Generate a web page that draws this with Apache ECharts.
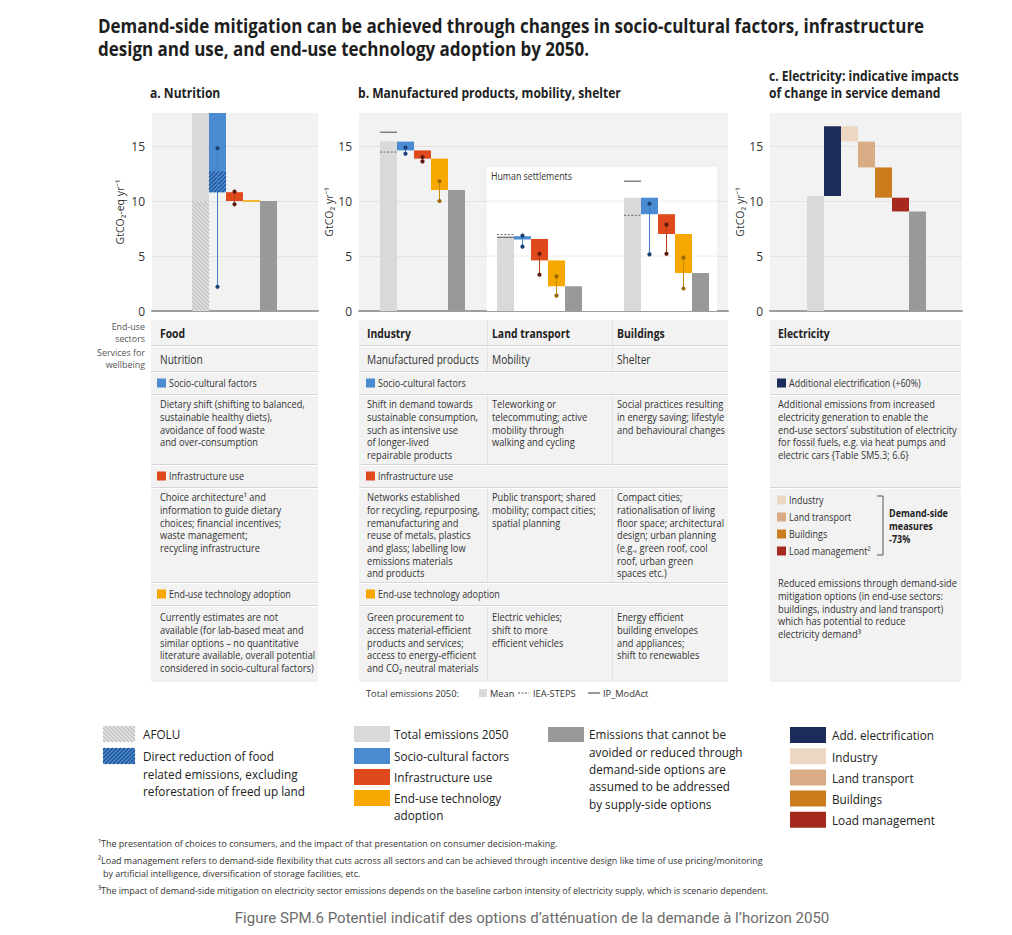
<!DOCTYPE html>
<html><head><meta charset="utf-8">
<script src="https://cdn.jsdelivr.net/npm/echarts@6/dist/echarts.min.js"></script>
<style>html,body{margin:0;padding:0;background:#fff}#c{width:1012px;height:935px}</style>
</head><body><div id="c"></div>
<script>
// ================= DATA =================
const yTicks = [0, 5, 10, 15];
const yMax = 18;

// a. Nutrition (Food) – values in GtCO2-eq/yr
const foodTotal = 21;              // runs off the top of the axis
const foodAfolu = 10.0;
const foodSocio = [21, 10.8];      // [from, to]
const foodSocioDirect = [12.7, 10.8];
const foodInfra = [10.8, 10.0];
const foodTech = [10.0, 10.0];
const foodRemain = 10.0;
const foodSocioRange = [14.8, 2.2];
const foodInfraRange = [10.85, 9.7];

// b. Manufactured products, mobility, shelter – GtCO2/yr
const sectorsB = ['Industry', 'Land transport', 'Buildings'];
const servicesB = ['Manufactured products', 'Mobility', 'Shelter'];
const totalB = [15.4, 6.7, 10.3];
const socioB = [[15.4, 14.6], [6.8, 6.5], [10.3, 8.8]];
const infraB = [[14.6, 13.85], [6.55, 4.6], [8.8, 7.0]];
const techB = [[13.85, 11.0], [4.6, 2.25], [7.0, 3.45]];
const remainB = [11.0, 2.25, 3.45];
const socioRangeB = [[14.85, 14.3], [6.85, 5.85], [9.75, 5.15]];
const infraRangeB = [[14.0, 13.6], [5.2, 3.3], [7.85, 5.2]];
const techRangeB = [[11.8, 10.0], [3.15, 1.4], [4.85, 2.05]];
const ieaStepsB = [14.45, 6.95, 8.7];
const ipModActB = [16.25, 6.7, 11.8];

// c. Electricity – GtCO2/yr
const elecSteps = ['Total emissions 2050', 'Add. electrification', 'Industry', 'Land transport', 'Buildings', 'Load management', 'Remaining'];
const elecFrom = [0, 10.45, 16.8, 15.4, 13.05, 10.3, 0];
const elecTo = [10.45, 16.8, 15.4, 13.05, 10.3, 9.05, 9.05];

// ================= STYLE / LAYOUT =================
const FONT = "'Open Sans', 'Noto Sans', sans-serif";
const SLOT = 17;
const GRIDS = [
  {left: 152, top: 113, width: 166, height: 198},
  {left: 359, top: 113, width: 369, height: 198},
  {left: 770, top: 113, width: 192, height: 198}
];
const aOff = 40 / SLOT;
const bOffs = [21 / SLOT, 138 / SLOT, 265 / SLOT];
const cOff = 37 / SLOT;
const hsBox = {from: 128 / SLOT, to: 358 / SLOT, top: 13.1};

// condense text horizontally to match the reference's condensed typeface
const mctx = document.createElement('canvas').getContext('2d');
function fit(sample, font, w) { mctx.font = font; const m = mctx.measureText(sample).width; return m > 0 ? Math.min(1.1, w / m) : 1; }
const fnt = (size, bold, fam) => `${bold ? 'bold ' : ''}${size}px ${fam || FONT}`;
const SX = {
  title: fit('Demand-side mitigation can be achieved through changes in socio-cultural factors, infrastructure', fnt(19.5, true), 827),
  ptitle: fit('b. Manufactured products, mobility, shelter', fnt(13.5, true), 263),
  body: fit('Dietary shift (shifting to balanced,', fnt(10.5), 145),
  h1: fit('Land transport', fnt(12.5, true), 78),
  h2: fit('Manufactured products', fnt(12.5), 112),
  lab: fit('Socio-cultural factors', fnt(10.5), 88),
  side: fit('Services for', fnt(9.5), 48),
  leg: fit('Direct reduction of food', fnt(13.5), 131),
  foot: fit('³The impact of demand-side mitigation on electricity sector emissions depends on the baseline carbon intensity of electricity supply, which is scenario dependent.', fnt(9.6), 670),
  cap: fit('Figure SPM.6 Potentiel indicatif des options d’atténuation de la demande à l’horizon 2050', fnt(14, false, "Roboto, sans-serif"), 595),
  small: fit('Total emissions 2050:', fnt(9.8), 93),
  dsm: fit('Demand-side', fnt(10.5, true), 59),
  hs: fit('Human settlements', fnt(10), 81)
};

const KIND = ['total', 'afolu', 'socio', 'socioDirect', 'infra', 'tech', 'remain', 'elecAdd', 'elecInd', 'elecLT', 'elecBld', 'elecLoad'];
const COLORS = {total: '#d9d9d9', afolu: '#e4e4e4', socio: '#4a8bd1', socioDirect: '#4a8bd1', infra: '#e0491c', tech: '#f6a700', remain: '#999999',
  elecAdd: '#1b2c5a', elecInd: '#ecd8c2', elecLT: '#d8ad85', elecBld: '#cb7d1d', elecLoad: '#a6291d'};
const HATCH = {afolu: {stroke: '#c0c0c0', dir: -1, gap: 4, lw: 1.2}, socioDirect: {stroke: '#1f4f8f', dir: 1, gap: 4, lw: 1.2}};
const RANGE = {socio: {line: '#3d7fc6', dot: '#1d3f77'}, infra: {line: '#b9401a', dot: '#5e1a0b'}, tech: {line: '#c68b00', dot: '#9a6a00'}};

function hatchLines(x, y, w, h, hs) {
  const out = [];
  const g = hs.gap;
  if (hs.dir === 1) { // '/'
    for (let k = x + y + g / 2; k < x + w + y + h; k += g) {
      const xa = Math.max(x, k - y - h), xb = Math.min(x + w, k - y);
      if (xb > xa) out.push({type: 'line', shape: {x1: xa, y1: k - xa, x2: xb, y2: k - xb}, style: {stroke: hs.stroke, lineWidth: hs.lw}});
    }
  } else {            // '\'
    for (let k = x - y - h + g / 2; k < x + w - y; k += g) {
      const xa = Math.max(x, k + y), xb = Math.min(x + w, k + y + h);
      if (xb > xa) out.push({type: 'line', shape: {x1: xa, y1: xa - k, x2: xb, y2: xb - k}, style: {stroke: hs.stroke, lineWidth: hs.lw}});
    }
  }
  return out;
}

function barRender(params, api) {
  const s = api.value(0), lo = Math.min(api.value(1), api.value(2)), hi = Math.max(api.value(1), api.value(2));
  const k = KIND[api.value(3)];
  const p0 = api.coord([s, lo]), p1 = api.coord([s + 1, hi]);
  const cs = params.coordSys;
  const x = p0[0], w = p1[0] - p0[0];
  const yTop = Math.max(p1[1], cs.y), yBot = Math.min(p0[1], cs.y + cs.height);
  const h = yBot - yTop;
  if (h < 0.6) return {type: 'line', shape: {x1: x, y1: yBot, x2: x + w, y2: yBot}, style: {stroke: COLORS[k], lineWidth: 1.6}};
  const children = [{type: 'rect', shape: {x: x, y: yTop, width: w, height: h}, style: {fill: COLORS[k]}}];
  if (HATCH[k]) children.push(...hatchLines(x, yTop, w, h, HATCH[k]));
  return {type: 'group', children};
}
function rangeRender(params, api) {
  const s = api.value(0), k = KIND[api.value(3)];
  const pa = api.coord([s + 0.5, api.value(1)]), pb = api.coord([s + 0.5, api.value(2)]);
  const st = RANGE[k];
  return {type: 'group', children: [
    {type: 'line', shape: {x1: pa[0], y1: pa[1], x2: pb[0], y2: pb[1]}, style: {stroke: st.line, lineWidth: 1}},
    {type: 'circle', shape: {cx: pa[0], cy: pa[1], r: 2.1}, style: {fill: st.dot}},
    {type: 'circle', shape: {cx: pb[0], cy: pb[1], r: 2.1}, style: {fill: st.dot}}
  ]};
}
function refRender(params, api) {
  const s = api.value(0), v = api.value(1), solid = api.value(2) === 1;
  const p0 = api.coord([s, v]), p1 = api.coord([s + 1, v]);
  return {type: 'line', shape: {x1: p0[0], y1: p0[1], x2: p1[0], y2: p1[1]},
    style: solid ? {stroke: '#7a7a7a', lineWidth: 1.4} : {stroke: '#6a6a6a', lineWidth: 1, lineDash: [2, 1.6]}};
}
function boxRender(params, api) {
  const p0 = api.coord([api.value(0), 0]), p1 = api.coord([api.value(1), api.value(2)]);
  const children = [{type: 'rect', shape: {x: p0[0], y: p1[1], width: p1[0] - p0[0], height: p0[1] - p1[1]}, style: {fill: '#ffffff'}}];
  yTicks.forEach(t => {
    if (t > 0 && t < api.value(2)) {
      const py = api.coord([0, t])[1];
      children.push({type: 'line', shape: {x1: p0[0], y1: py, x2: p1[0], y2: py}, style: {stroke: '#ececec', lineWidth: 1}});
    }
  });
  children.push({type: 'text', x: p0[0] + 4, y: p1[1] + 9, scaleX: SX.hs, style: {text: 'Human settlements', font: fnt(10), fill: '#333', verticalAlign: 'middle'}});
  return {type: 'group', children};
}

const ki = k => KIND.indexOf(k);
const aBars = [
  [aOff, 0, foodAfolu, ki('afolu')],
  [aOff, foodAfolu, foodTotal, ki('total')],
  [aOff + 1, foodSocio[0], foodSocio[1], ki('socio')],
  [aOff + 1, foodSocioDirect[0], foodSocioDirect[1], ki('socioDirect')],
  [aOff + 2, foodInfra[0], foodInfra[1], ki('infra')],
  [aOff + 3, foodTech[0], foodTech[1], ki('tech')],
  [aOff + 4, 0, foodRemain, ki('remain')]
];
const aRanges = [
  [aOff + 1, foodSocioRange[0], foodSocioRange[1], ki('socio')],
  [aOff + 2, foodInfraRange[0], foodInfraRange[1], ki('infra')]
];
const bBars = [], bRanges = [], bRefs = [];
sectorsB.forEach((name, g) => {
  const o = bOffs[g];
  bBars.push([o, 0, totalB[g], ki('total')]);
  bBars.push([o + 1, socioB[g][0], socioB[g][1], ki('socio')]);
  bBars.push([o + 2, infraB[g][0], infraB[g][1], ki('infra')]);
  bBars.push([o + 3, techB[g][0], techB[g][1], ki('tech')]);
  bBars.push([o + 4, 0, remainB[g], ki('remain')]);
  bRanges.push([o + 1, socioRangeB[g][0], socioRangeB[g][1], ki('socio')]);
  bRanges.push([o + 2, infraRangeB[g][0], infraRangeB[g][1], ki('infra')]);
  bRanges.push([o + 3, techRangeB[g][0], techRangeB[g][1], ki('tech')]);
  bRefs.push([o, ieaStepsB[g], 0]);
  bRefs.push([o, ipModActB[g], 1]);
});
const elecKinds = ['total', 'elecAdd', 'elecInd', 'elecLT', 'elecBld', 'elecLoad', 'remain'];
const cBars = elecSteps.map((s, i) => [cOff + i, elecFrom[i], elecTo[i], ki(elecKinds[i])]);

function yAxisCfg(gi, name, gap) {
  return {type: 'value', gridIndex: gi, min: 0, max: yMax, interval: 5,
    name, nameLocation: 'middle', nameGap: gap, nameTextStyle: {fontSize: 10.5, color: '#333', fontFamily: FONT},
    axisLine: {show: false}, axisTick: {show: false},
    axisLabel: {color: '#333', fontSize: 12, fontFamily: FONT, margin: 7, showMaxLabel: false,
      formatter: v => (yTicks.includes(v) ? String(v) : '')},
    splitLine: {show: true, showMinLine: false, showMaxLine: false, lineStyle: {color: '#e2e2e2', width: 1}}};
}
function xAxisCfg(gi) {
  return {type: 'value', gridIndex: gi, min: 0, max: GRIDS[gi].width / SLOT,
    axisLine: {show: true, onZero: false, lineStyle: {color: '#9e9e9e', width: 2}},
    axisTick: {show: false}, axisLabel: {show: false}, splitLine: {show: false}};
}

// ================= GRAPHIC (titles, tables, legends) =================
const G = [];
function txt(x, y, text, o = {}) {
  const lh = o.lh || 12.7;
  const multi = Array.isArray(text);
  G.push({type: 'text', x, y: multi ? y - lh / 2 : y, silent: true, z: 10, scaleX: SX[o.cls || 'body'],
    style: {text: multi ? text.join('\n') : text, fill: o.fill || '#333',
      font: fnt(o.size || 10.5, o.bold, o.family),
      align: o.align || 'left', verticalAlign: multi ? 'top' : 'middle', lineHeight: lh}});
}
function rect(x, y, w, h, fill) { G.push({type: 'rect', silent: true, z: 5, shape: {x, y, width: w, height: h}, style: {fill}}); }
function line(x1, y1, x2, y2, stroke, lw, dash) { G.push({type: 'line', silent: true, z: 6, shape: {x1, y1, x2, y2}, style: {stroke, lineWidth: lw || 1, lineDash: dash}}); }
function hatchRect(x, y, w, h, fill, hs) { rect(x, y, w, h, fill); hatchLines(x, y, w, h, hs).forEach(l => G.push(Object.assign(l, {silent: true, z: 6}))); }

// Title
txt(98, 25, 'Demand-side mitigation can be achieved through changes in socio-cultural factors, infrastructure', {bold: true, size: 19.5, fill: '#1e1e1e', cls: 'title'});
txt(98, 48, 'design and use, and end-use technology adoption by 2050.', {bold: true, size: 19.5, fill: '#1e1e1e', cls: 'title'});
// panel titles
const PT = {bold: true, size: 13.5, fill: '#222', cls: 'ptitle'};
txt(150, 93, 'a. Nutrition', PT);
txt(358, 93, 'b. Manufactured products, mobility, shelter', PT);
txt(769, 76, 'c. Electricity: indicative impacts', PT);
txt(769, 93, 'of change in service demand', PT);

// side labels
const SL = {size: 9.5, align: 'right', fill: '#555', cls: 'side'};
txt(145, 326, 'End-use', SL);
txt(145, 338, 'sectors', SL);
txt(145, 352, 'Services for', SL);
txt(145, 364, 'wellbeing', SL);

// tables backgrounds
const TBG = '#f2f2f2';
rect(151, 320, 167, 362, TBG);
rect(359, 320, 369, 362, TBG);
rect(770, 320, 191, 362, TBG);
function sep(x, w, y) { line(x, y, x + w, y, '#d5d5d5', 1); line(x, y + 1, x + w, y + 1, '#ffffff', 1); }
[345.5, 371.5, 394.5, 464.5, 487.5, 582.5, 605.5].forEach(y => { sep(151, 167, y); sep(359, 369, y); });
[345.5, 371.5, 394.5, 487.5].forEach(y => sep(770, 191, y));
[487.5, 612.5].forEach(x => { [[320, 345], [346.5, 371], [395.5, 464.5], [488.5, 582.5], [606.5, 682]].forEach(r => line(x, r[0], x, r[1], '#e4e4e4', 1)); });

// row 1 & 2
const H1 = {bold: true, size: 12.5, fill: '#222', cls: 'h1'};
const H2 = {size: 12.5, fill: '#333', cls: 'h2'};
txt(160, 333, 'Food', H1);
txt(160, 359, 'Nutrition', H2);
const colX = [367, 492, 617];
sectorsB.forEach((s, i) => txt(colX[i], 333, s, H1));
servicesB.forEach((s, i) => txt(colX[i], 359, s, H2));
txt(778, 333, 'Electricity', H1);

// header rows
function hdr(x, y, color, label) { rect(x, y - 4.5, 9, 9, color); txt(x + 12, y, label, {size: 10.5, cls: 'lab'}); }
hdr(157, 383, COLORS.socio, 'Socio-cultural factors');
hdr(157, 476, COLORS.infra, 'Infrastructure use');
hdr(157, 594, COLORS.tech, 'End-use technology adoption');
hdr(366, 383, COLORS.socio, 'Socio-cultural factors');
hdr(366, 476, COLORS.infra, 'Infrastructure use');
hdr(366, 594, COLORS.tech, 'End-use technology adoption');
hdr(777, 383, COLORS.elecAdd, 'Additional electrification (+60%)');

// descriptions
txt(160, 404, ['Dietary shift (shifting to balanced,', 'sustainable healthy diets),', 'avoidance of food waste', 'and over-consumption']);
txt(160, 497, ['Choice architecture¹ and', 'information to guide dietary', 'choices; financial incentives;', 'waste management;', 'recycling infrastructure']);
txt(160, 617, ['Currently estimates are not', 'available (for lab-based meat and', 'similar options – no quantitative', 'literature available, overall potential', 'considered in socio-cultural factors)']);
txt(367, 404, ['Shift in demand towards', 'sustainable consumption,', 'such as intensive use', 'of longer-lived', 'repairable products']);
txt(367, 497, ['Networks established', 'for recycling, repurposing,', 'remanufacturing and', 'reuse of metals, plastics', 'and glass; labelling low', 'emissions materials', 'and products']);
txt(367, 617, ['Green procurement to', 'access material-efficient', 'products and services;', 'access to energy-efficient', 'and CO₂ neutral materials']);
txt(492, 404, ['Teleworking or', 'telecommuting; active', 'mobility through', 'walking and cycling']);
txt(492, 497, ['Public transport; shared', 'mobility; compact cities;', 'spatial planning']);
txt(492, 617, ['Electric vehicles;', 'shift to more', 'efficient vehicles']);
txt(617, 404, ['Social practices resulting', 'in energy saving; lifestyle', 'and behavioural changes']);
txt(617, 497, ['Compact cities;', 'rationalisation of living', 'floor space; architectural', 'design; urban planning', '(e.g., green roof, cool', 'roof, urban green', 'spaces etc.)']);
txt(617, 617, ['Energy efficient', 'building envelopes', 'and appliances;', 'shift to renewables']);
txt(778, 404, ['Additional emissions from increased', 'electricity generation to enable the', 'end-use sectors’ substitution of electricity', 'for fossil fuels, e.g. via heat pumps and', 'electric cars {Table SM5.3; 6.6}']);
// panel c list
[['elecInd', 'Industry'], ['elecLT', 'Land transport'], ['elecBld', 'Buildings'], ['elecLoad', 'Load management²']].forEach((d, i) => {
  const y = 500 + i * 17;
  rect(777, y - 4.5, 9, 9, COLORS[d[0]]);
  txt(789, y, d[1], {size: 10.5, cls: 'lab'});
});
line(883, 496, 883, 555, '#555', 1);
line(877, 496, 883, 496, '#555', 1);
line(877, 555, 883, 555, '#555', 1);
const DS = {bold: true, size: 10.5, fill: '#222', cls: 'dsm'};
txt(889, 513, 'Demand-side', DS);
txt(889, 526, 'measures', DS);
txt(889, 539, '-73%', DS);
txt(778, 583, ['Reduced emissions through demand-side', 'mitigation options (in end-use sectors:', 'buildings, industry and land transport)', 'which has potential to reduce', 'electricity demand³']);

// table b legend line
const SM = {size: 9.8, cls: 'small'};
txt(366, 693, 'Total emissions 2050:', SM);
rect(479, 689, 8, 8, COLORS.total);
txt(490, 693, 'Mean', SM);
line(518, 693, 529, 693, '#555', 1, [2, 1.5]);
txt(533, 693, 'IEA-STEPS', SM);
line(588, 693, 600, 693, '#555', 1.2);
txt(603, 693, 'IP_ModAct', SM);

// bottom legend
const LG = {size: 13.5, fill: '#222', cls: 'leg', lh: 17.3};
hatchRect(103, 726, 32, 16, COLORS.afolu, HATCH.afolu);
txt(143, 734, 'AFOLU', LG);
hatchRect(103, 748, 32, 16, COLORS.socioDirect, HATCH.socioDirect);
txt(143, 756, ['Direct reduction of food', 'related emissions, excluding', 'reforestation of freed up land'], LG);

[['total', 'Total emissions 2050', 726], ['socio', 'Socio-cultural factors', 748], ['infra', 'Infrastructure use', 769], ['tech', 'End-use technology', 790]].forEach(d => {
  rect(354, d[2], 36, 16, COLORS[d[0]]);
  txt(394, d[2] + 8, d[1], LG);
});
txt(394, 815, 'adoption', LG);

rect(548, 727, 36, 15, COLORS.remain);
txt(589, 734, ['Emissions that cannot be', 'avoided or reduced through', 'demand-side options are', 'assumed to be addressed', 'by supply-side options'], LG);

[['elecAdd', 'Add. electrification'], ['elecInd', 'Industry'], ['elecLT', 'Land transport'], ['elecBld', 'Buildings'], ['elecLoad', 'Load management']].forEach((d, i) => {
  const y = 727 + i * 21.2;
  rect(790, y, 36, 16, COLORS[d[0]]);
  txt(832, y + 8, d[1], LG);
});

// footnotes
const FN = {size: 9.6, fill: '#333', cls: 'foot'};
txt(98, 843, '¹The presentation of choices to consumers, and the impact of that presentation on consumer decision-making.', FN);
txt(98, 860, '²Load management refers to demand-side flexibility that cuts across all sectors and can be achieved through incentive design like time of use pricing/monitoring', FN);
txt(103, 873, 'by artificial intelligence, diversification of storage facilities, etc.', FN);
txt(98, 890, '³The impact of demand-side mitigation on electricity sector emissions depends on the baseline carbon intensity of electricity supply, which is scenario dependent.', FN);
txt(532, 919, 'Figure SPM.6 Potentiel indicatif des options d’atténuation de la demande à l’horizon 2050', {size: 14, fill: '#6b6b6b', family: "Roboto, sans-serif", align: 'center', cls: 'cap'});

// ================= CHART =================
const chart = echarts.init(document.getElementById('c'), null, {renderer: 'svg'});
chart.setOption({
  animation: false,
  backgroundColor: '#ffffff',
  grid: GRIDS.map(g => Object.assign({show: true, backgroundColor: '#f2f2f2', borderWidth: 0}, g)),
  xAxis: [xAxisCfg(0), xAxisCfg(1), xAxisCfg(2)],
  yAxis: [yAxisCfg(0, 'GtCO₂-eq yr⁻¹', 27), yAxisCfg(1, 'GtCO₂ yr⁻¹', 25), yAxisCfg(2, 'GtCO₂ yr⁻¹', 25)],
  series: [
    {type: 'custom', name: 'Human settlements', xAxisIndex: 1, yAxisIndex: 1, z: 1, renderItem: boxRender, data: [[hsBox.from, hsBox.to, hsBox.top]], silent: true},
    {type: 'custom', name: 'Nutrition', xAxisIndex: 0, yAxisIndex: 0, z: 3, renderItem: barRender, data: aBars, silent: true},
    {type: 'custom', name: 'Nutrition ranges', xAxisIndex: 0, yAxisIndex: 0, z: 4, renderItem: rangeRender, data: aRanges, silent: true},
    {type: 'custom', name: 'Products, mobility, shelter', xAxisIndex: 1, yAxisIndex: 1, z: 3, renderItem: barRender, data: bBars, silent: true},
    {type: 'custom', name: 'Ranges', xAxisIndex: 1, yAxisIndex: 1, z: 4, renderItem: rangeRender, data: bRanges, silent: true},
    {type: 'custom', name: 'Scenarios', xAxisIndex: 1, yAxisIndex: 1, z: 5, renderItem: refRender, data: bRefs, silent: true},
    {type: 'custom', name: 'Electricity', xAxisIndex: 2, yAxisIndex: 2, z: 3, renderItem: barRender, data: cBars, silent: true}
  ],
  graphic: {elements: G}
});
</script></body></html>
